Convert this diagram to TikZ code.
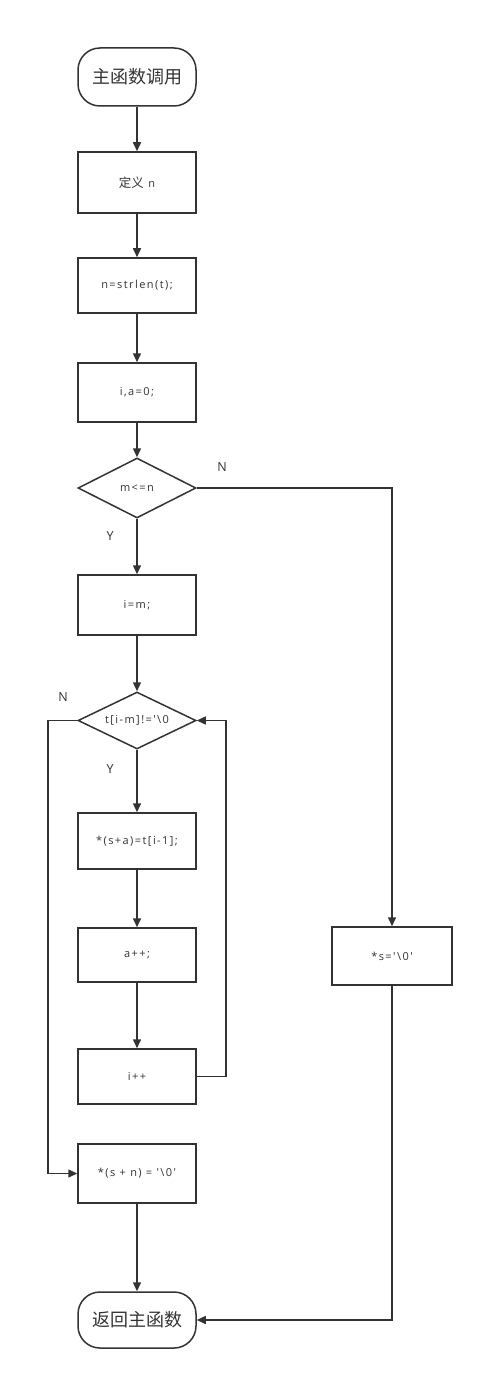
\documentclass[tikz,border=0pt]{standalone}
\usepackage{fontspec}
\newfontfamily\cjk{Noto Sans CJK SC}
\newfontfamily\lat[LetterSpace=13]{Open Sans}
\newfontfamily\latn{Open Sans}
\usetikzlibrary{shapes.geometric,arrows.meta}
\definecolor{ln}{HTML}{333333}
\begin{document}
\begin{tikzpicture}[x=1pt,y=-1pt,
  every node/.style={text=ln},
  box/.style={draw=ln,line width=1.5pt,minimum width=118pt,minimum height=#1,inner sep=0pt,font=\lat\fontsize{11}{13}\selectfont},
  box/.default=58pt,
  term/.style={draw=ln,line width=1.5pt,rounded corners=22pt,minimum width=118pt,minimum height=58pt,inner sep=0pt,font=\cjk\fontsize{18}{21}\selectfont},
  dec/.style={draw=ln,line width=1.5pt,diamond,aspect=2,minimum width=118pt,minimum height=#1,inner sep=0pt,font=\lat\fontsize{11}{13}\selectfont},
  dec/.default=60pt,
  arr/.style={draw=ln,line width=1.5pt,-{Triangle[length=9pt,width=8pt]}},
  lab/.style={font=\latn\fontsize{12.5}{15}\selectfont}]
\useasboundingbox (0,0) rectangle (483,1380);
\node[term] (start) at (137,77) {主函数调用};
\node[box=61pt] (b1) at (137,182.5) {{\cjk\fontsize{12.5}{14}\selectfont 定义} n};
\node[box=55pt] (b2) at (137,285.5) {n=strlen(t);};
\node[box=59pt] (b3) at (137,392.5) {i,a=0;};
\node[dec=60pt,minimum width=118pt] (d1) at (137,488) {m<=n};
\node[box=60pt] (b4) at (137,605) {i=m;};
\node[dec=57pt] (d2) at (137,720.5) {t[i-m]!='\symbol{92}0};
\node[box=56pt] (b5) at (137,841) {*(s+a)=t[i-1];};
\node[box=54pt] (b6) at (137,955) {a++;};
\node[box=55pt] (b7) at (137,1076.5) {i++};
\node[box=59pt] (b8) at (137,1173.5) {*(s + n) = '\symbol{92}0'};
\node[term,minimum height=56pt] (end) at (137,1320) {返回主函数};
\node[box=58pt,minimum width=120pt] (s) at (392,956) {*s='\symbol{92}0'};
\node[lab] (n1) at (222,467) {N};
\node[lab] (y1) at (110,536) {Y};
\node[lab] (n2) at (63,697) {N};
\node[lab] (y2) at (110,769) {Y};
\coordinate (c1) at (392,488);
\coordinate (c2) at (226,1076.5);
\coordinate (c3) at (226,720.5);
\coordinate (c4) at (48,720.5);
\coordinate (c5) at (48,1173.5);
\coordinate (c6) at (392,1320);
\path[arr] (start) -- (b1);
\path[arr] (b1) -- (b2);
\path[arr] (b2) -- (b3);
\path[arr] (b3) -- (d1);
\path[arr] (d1) -- (b4);
\path[arr] (b4) -- (d2);
\path[arr] (d2) -- (b5);
\path[arr] (b5) -- (b6);
\path[arr] (b6) -- (b7);
\path[arr] (b8) -- (end);
\path[arr] (d1.east) -- (c1) -- (s.north);
\path[arr] (b7.east) -- (c2) -- (c3) -- (d2.east);
\path[arr] (d2.west) -- (c4) -- (c5) -- (b8.west);
\path[arr] (s.south) -- (c6) -- (end.east);
\end{tikzpicture}
\end{document}
